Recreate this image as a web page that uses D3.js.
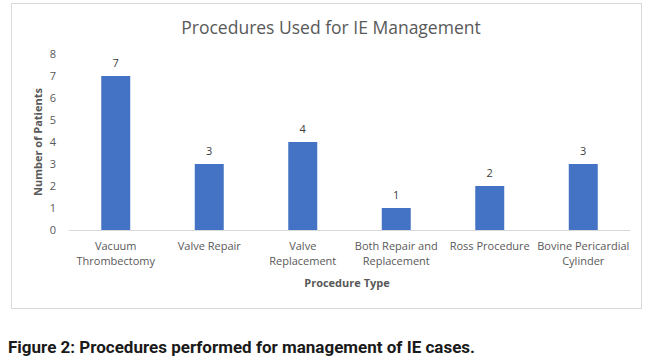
<!DOCTYPE html>
<html>
<head>
<meta charset="utf-8">
<script src="https://cdn.jsdelivr.net/npm/d3@7"></script>
<style>
  body { margin: 0; background: #fff; }
</style>
</head>
<body>
<div id="root"></div>
<script>
//DATA
const categories = [
  ["Vacuum", "Thrombectomy"],
  ["Valve Repair"],
  ["Valve", "Replacement"],
  ["Both Repair and", "Replacement"],
  ["Ross Procedure"],
  ["Bovine Pericardial", "Cylinder"]
];
const patients = [7, 3, 4, 1, 2, 3];
const yTicks = [0, 1, 2, 3, 4, 5, 6, 7, 8];

//DIMENSIONS
const width = 650, height = 362;
const plot = {left: 69, right: 630, top: 54, bottom: 230};
const font = '"Open Sans", Lato, sans-serif';

const svg = d3.select('#root')
  .append('svg')
  .attr('width', width)
  .attr('height', height)
  .attr('font-family', font);

//FRAME
svg.append('rect')
  .attr('x', 11.5).attr('y', 3.5)
  .attr('width', 630).attr('height', 305)
  .attr('fill', '#fff')
  .attr('stroke', '#d9d9d9');

//SCALES
const x = d3.scaleBand()
  .domain(d3.range(categories.length))
  .range([plot.left, plot.right])
  .paddingInner(0.69)
  .paddingOuter(0.345);

const y = d3.scaleLinear()
  .domain([0, 8])
  .range([plot.bottom, plot.top]);

//TITLE
svg.append('text')
  .attr('x', 331).attr('y', 34)
  .attr('text-anchor', 'middle')
  .attr('font-size', 17.5)
  .attr('fill', '#595959')
  .text('Procedures Used for IE Management');

//Y AXIS LABELS (no line)
svg.append('g')
  .selectAll('text')
  .data(yTicks)
  .join('text')
  .attr('x', 56)
  .attr('y', d => y(d) + 4)
  .attr('text-anchor', 'end')
  .attr('font-size', 11)
  .attr('fill', '#595959')
  .text(d => d);

//BASELINE
svg.append('line')
  .attr('x1', plot.left).attr('x2', plot.right)
  .attr('y1', y(0) + 0.5).attr('y2', y(0) + 0.5)
  .attr('stroke', '#d9d9d9');

//BARS
svg.append('g')
  .selectAll('rect')
  .data(patients)
  .join('rect')
  .attr('x', (d, i) => x(i))
  .attr('y', d => y(d))
  .attr('width', x.bandwidth())
  .attr('height', d => y(0) - y(d))
  .attr('fill', '#4472c4');

//VALUE LABELS
svg.append('g')
  .selectAll('text')
  .data(patients)
  .join('text')
  .attr('x', (d, i) => x(i) + x.bandwidth() / 2)
  .attr('y', d => y(d) - 9)
  .attr('text-anchor', 'middle')
  .attr('font-size', 11)
  .attr('fill', '#404040')
  .text(d => d);

//CATEGORY LABELS
const cat = svg.append('g')
  .selectAll('text')
  .data(categories)
  .join('text')
  .attr('x', (d, i) => x(i) + x.bandwidth() / 2)
  .attr('y', 250)
  .attr('text-anchor', 'middle')
  .attr('font-size', 11)
  .attr('fill', '#595959');
cat.selectAll('tspan')
  .data(d => d)
  .join('tspan')
  .attr('x', function() { return d3.select(this.parentNode).attr('x'); })
  .attr('dy', (d, i) => i === 0 ? 0 : 15)
  .text(d => d);

//AXIS TITLES
svg.append('text')
  .attr('x', 347).attr('y', 287)
  .attr('text-anchor', 'middle')
  .attr('font-size', 11)
  .attr('font-weight', 'bold')
  .attr('fill', '#595959')
  .text('Procedure Type');

svg.append('text')
  .attr('transform', `translate(42, 142) rotate(-90)`)
  .attr('text-anchor', 'middle')
  .attr('font-size', 11)
  .attr('font-weight', 'bold')
  .attr('fill', '#595959')
  .text('Number of Patients');

//CAPTION
svg.append('text')
  .attr('x', 8).attr('y', 353)
  .attr('font-family', 'Roboto, sans-serif')
  .attr('font-size', 17)
  .attr('font-weight', 'bold')
  .attr('fill', '#1a1a1a')
  .text('Figure 2: Procedures performed for management of IE cases.');
</script>
</body>
</html>
